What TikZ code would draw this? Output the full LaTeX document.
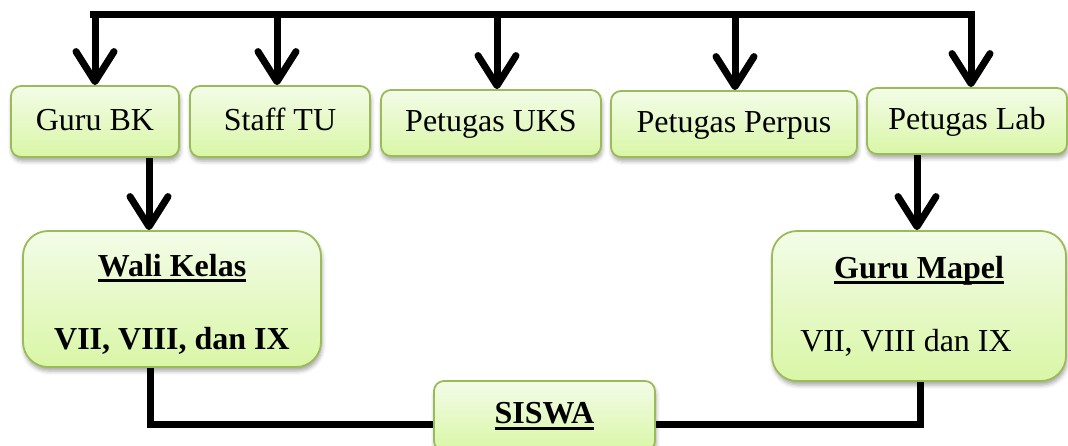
\documentclass[tikz,border=0pt]{standalone}
\usepackage{fontspec}
\setmainfont{Liberation Serif}
\usetikzlibrary{arrows.meta,shadows.blur}
\definecolor{boxtop}{HTML}{F3FCE8}
\definecolor{boxbot}{HTML}{D9F6A6}
\definecolor{boxline}{HTML}{9BBB59}
\newcommand{\myul}[1]{\setbox0\hbox{#1}\rlap{\rule[-6pt]{\wd0}{3pt}}\box0}
\begin{document}
\begin{tikzpicture}[x=1pt,y=-1pt,
  box/.style={draw=boxline, line width=1.8pt, top color=boxtop, bottom color=boxbot,
    rounded corners=10pt, inner sep=0pt,
    blur shadow={shadow xshift=1pt, shadow yshift=-4pt, shadow blur radius=4pt, shadow opacity=35},
    font=\fontsize{32}{38}\selectfont},
  smallbox/.style={box, text height=22pt, text depth=5pt},
  bigbox/.style={box, rounded corners=25pt, align=center},
  conn/.style={line width=7pt},
  arr/.style={conn, -{Straight Barb[length=30pt,width=38pt,round]}}]
\clip (0,0) rectangle (1068,445);
% top row
\node[smallbox, minimum width=168pt, minimum height=71pt] (gurubk) at (95,121.5) {Guru BK};
\node[smallbox, minimum width=180pt, minimum height=71pt] (staff) at (280,121.5) {Staff TU};
\node[smallbox, minimum width=220pt, minimum height=66pt] (uks) at (491,123) {Petugas UKS};
\node[smallbox, minimum width=246pt, minimum height=66pt] (perpus) at (734,124) {Petugas Perpus};
\node[smallbox, minimum width=200pt, minimum height=66pt] (lab) at (967,121) {Petugas Lab};
% middle row
\node[bigbox, minimum width=298pt, minimum height=136pt] (wali) at (172,299)
  {\rule{0pt}{32pt}\bfseries\myul{Wali Kelas}\\[35pt]\bfseries VII, VIII, dan IX};
\node[bigbox, minimum width=294pt, minimum height=150pt] (mapel) at (919,306)
  {\bfseries\myul{Guru Mapel}\\[35pt]VII, VIII dan IX\hspace*{26pt}};
% bottom
\node[box, minimum width=221pt, minimum height=70pt] (siswa) at (544.5,416) {\bfseries\myul{SISWA}};
% coordinates
\coordinate (tL) at (90,14);
\coordinate (tR) at (971,14);
\coordinate (t1) at (95,14);
\coordinate (t2) at (277,14);
\coordinate (t3) at (497,14);
\coordinate (t4) at (735,14);
\coordinate (a1) at (149,0);
\coordinate (a2) at (917,0);
\coordinate (b1) at (150,424);
\coordinate (b2) at (920,424);
% connectors
\draw[arr] (tL) -- (tR) -- (tR |- lab.north);
\draw[arr] (t1) -- (t1 |- gurubk.north);
\draw[arr] (t2) -- (t2 |- staff.north);
\draw[arr] (t3) -- (t3 |- uks.north);
\draw[arr] (t4) -- (t4 |- perpus.north);
\draw[arr] (gurubk.south -| a1) -- (wali.north -| a1);
\draw[arr] (lab.south -| a2) -- (mapel.north -| a2);
\draw[conn] (wali.south -| b1) -- (b1) -- (siswa.west |- b1);
\draw[conn] (mapel.south -| b2) -- (b2) -- (siswa.east |- b2);
\end{tikzpicture}
\end{document}
